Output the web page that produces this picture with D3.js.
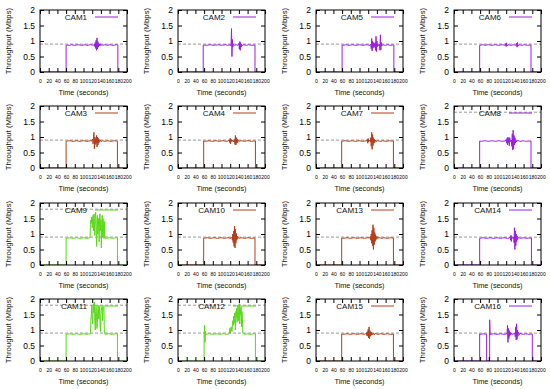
<!DOCTYPE html>
<html>
<head>
<meta charset="utf-8">
<script src="https://cdn.jsdelivr.net/npm/d3@7"></script>
<style>
  body { margin: 0; background: #fff; }
  svg { display: block; font-family: "Liberation Sans", Arial, sans-serif; }
</style>
</head>
<body>
<div id="chart"></div>
<script>
// panel order, left to right, top to bottom
const cameras = ["CAM1", "CAM2", "CAM5", "CAM6", "CAM3", "CAM4", "CAM7", "CAM8",
                 "CAM9", "CAM10", "CAM13", "CAM14", "CAM11", "CAM12", "CAM15", "CAM16"];
const colorGroup = ["violet", "violet", "violet", "violet", "brown", "brown", "brown", "violet",
                    "green", "brown", "brown", "violet", "green", "green", "brown", "violet"];
// dashed reference levels (Mbps) per panel
const refLevels = [[0.9], [0.9], [0.9], [0.9], [0.9], [0.9], [0.9], [1.8],
                   [0.9, 1.8], [0.9], [0.9], [0.9], [0.9, 1.8], [0.9, 1.8], [0.9], [0.9]];
const xTicks = [0, 20, 40, 60, 80, 100, 120, 140, 160, 180, 200];
const yTicks = [0, 0.5, 1, 1.5, 2];

// throughput series: [time (s), Mbps]
const cam1 = [[0,0],[60,0],[60,0.86],[64,0.87],[68,0.86],[72,0.88],[76,0.87],[80,0.86],[84,0.87],[88,0.88],[92,0.87],[96,0.86],[100,0.87],[104,0.88],[108,0.86],[112,0.87],[116,0.88],[120,0.87],[123,0.86],[125,0.9],[126,0.82],[127,0.95],[128,0.76],[129,1.02],[130,0.7],[131,1.1],[132,0.74],[133,0.98],[134,0.8],[135,0.93],[136,0.84],[138,0.91],[140,0.85],[142,0.89],[144,0.86],[148,0.88],[152,0.87],[156,0.86],[160,0.88],[164,0.87],[168,0.86],[172,0.87],[176,0.88],[179,0.87],[179,0],[200,0]];
const cam2 = [[0,0],[58,0],[58,0.86],[62,0.87],[66,0.86],[70,0.87],[74,0.88],[78,0.87],[82,0.86],[86,0.87],[90,0.87],[94,0.88],[98,0.86],[102,0.87],[106,0.87],[110,0.88],[114,0.86],[118,0.87],[121,0.88],[122,0.84],[123,1.4],[124,0.5],[125,1.05],[126,0.8],[127,0.9],[130,0.86],[134,0.88],[138,0.86],[140,0.92],[141,0.74],[142,0.98],[143,0.7],[144,0.95],[145,0.8],[146,0.9],[148,0.84],[150,0.88],[154,0.87],[158,0.86],[162,0.88],[166,0.87],[170,0.86],[174,0.87],[177,0.87],[177,0],[200,0]];
const cam5 = [[0,0],[60,0],[60,0.87],[64,0.86],[68,0.88],[72,0.87],[76,0.86],[80,0.87],[84,0.88],[88,0.87],[92,0.86],[96,0.87],[100,0.88],[104,0.87],[108,0.86],[112,0.87],[116,0.88],[120,0.87],[124,0.86],[126,0.9],[127,0.75],[128,1.08],[129,0.68],[130,1.0],[131,0.8],[132,0.95],[133,0.78],[134,0.92],[135,0.82],[136,0.95],[137,0.7],[138,1.15],[139,0.66],[140,1.0],[141,0.82],[142,0.9],[144,0.85],[146,0.9],[147,0.7],[148,1.2],[149,0.72],[150,0.95],[151,0.84],[153,0.88],[156,0.87],[160,0.86],[164,0.88],[168,0.87],[172,0.86],[176,0.87],[179,0.87],[179,0],[200,0]];
const cam6 = [[0,0],[59,0],[59,0.86],[63,0.87],[67,0.88],[71,0.86],[75,0.87],[79,0.88],[83,0.87],[87,0.86],[91,0.87],[95,0.88],[99,0.87],[103,0.86],[107,0.87],[111,0.88],[115,0.87],[118,0.86],[119,0.92],[120,0.82],[121,0.94],[122,0.84],[124,0.88],[128,0.87],[132,0.86],[136,0.88],[140,0.87],[143,0.86],[144,0.93],[145,0.8],[146,0.95],[147,0.83],[149,0.88],[153,0.87],[157,0.86],[161,0.88],[165,0.87],[169,0.86],[173,0.87],[177,0.87],[177,0],[200,0]];
const cam3 = [[0,0],[60,0],[60,0.86],[64,0.87],[68,0.88],[72,0.87],[76,0.86],[80,0.87],[84,0.88],[88,0.87],[92,0.86],[96,0.87],[100,0.88],[104,0.87],[108,0.86],[112,0.87],[116,0.88],[119,0.87],[121,0.93],[122,0.78],[123,1.02],[124,1.15],[125,0.62],[126,1.0],[127,0.76],[128,0.95],[129,0.8],[130,1.05],[131,0.68],[132,1.0],[133,0.74],[134,0.96],[135,0.8],[136,0.92],[137,0.84],[139,0.9],[141,0.85],[143,0.88],[147,0.87],[151,0.86],[155,0.88],[159,0.87],[163,0.86],[167,0.87],[171,0.88],[175,0.87],[178,0.86],[178,0],[200,0]];
const cam4 = [[0,0],[59,0],[59,0.87],[63,0.86],[67,0.87],[71,0.88],[75,0.87],[79,0.86],[83,0.87],[87,0.88],[91,0.87],[95,0.86],[99,0.87],[103,0.88],[107,0.87],[111,0.86],[115,0.87],[118,0.9],[119,0.82],[120,0.96],[121,0.78],[122,0.93],[124,0.85],[126,0.9],[128,0.84],[130,0.92],[131,0.76],[132,1.05],[133,0.74],[134,0.98],[135,0.8],[136,0.94],[137,0.82],[139,0.9],[141,0.86],[145,0.88],[149,0.87],[153,0.86],[157,0.87],[161,0.88],[165,0.87],[169,0.86],[173,0.87],[178,0.87],[178,0],[200,0]];
const cam7 = [[0,0],[59,0],[59,0.86],[63,0.87],[67,0.88],[71,0.87],[75,0.86],[79,0.87],[83,0.88],[87,0.87],[91,0.86],[95,0.87],[99,0.88],[103,0.87],[107,0.86],[111,0.87],[116,0.87],[118,0.92],[119,0.8],[120,0.95],[121,0.84],[123,0.9],[125,0.85],[126,0.98],[127,0.7],[128,1.15],[129,0.6],[130,1.08],[131,0.72],[132,0.98],[133,0.8],[134,0.93],[135,0.82],[137,0.9],[139,0.85],[141,0.88],[145,0.87],[149,0.86],[153,0.88],[157,0.87],[161,0.86],[165,0.87],[169,0.88],[173,0.87],[178,0.87],[178,0],[200,0]];
const cam8 = [[0,0],[59,0],[59,0.87],[63,0.86],[67,0.87],[71,0.88],[75,0.87],[79,0.86],[83,0.87],[87,0.88],[91,0.87],[95,0.86],[99,0.87],[103,0.88],[107,0.87],[111,0.86],[115,0.87],[118,0.87],[120,0.92],[121,0.8],[122,0.96],[123,0.75],[124,1.0],[125,0.82],[126,0.95],[127,0.72],[128,0.98],[130,0.85],[132,0.9],[133,0.7],[134,1.1],[135,0.58],[136,1.22],[137,0.62],[138,1.05],[139,0.75],[140,0.98],[141,0.8],[142,0.92],[144,0.84],[146,0.89],[150,0.87],[154,0.86],[158,0.88],[162,0.87],[166,0.86],[170,0.87],[177,0.87],[177,0],[200,0]];
const cam9 = [[0,0],[60,0],[60,0.86],[64,0.87],[68,0.88],[72,0.87],[76,0.86],[80,0.87],[84,0.88],[88,0.87],[92,0.86],[96,0.87],[100,0.88],[104,0.87],[108,0.86],[112,0.87],[115,0.88],[116,1.3],[117,1.45],[118,1.35],[119,1.55],[120,1.2],[121,1.5],[122,1.6],[123,1.1],[124,1.65],[125,1.3],[126,0.95],[127,1.55],[128,1.7],[129,1.2],[130,0.6],[131,1.45],[132,1.6],[133,1.0],[134,1.5],[135,1.25],[136,0.75],[137,1.55],[138,1.65],[139,1.1],[140,1.45],[141,0.55],[142,1.3],[143,1.6],[144,0.9],[145,1.5],[146,1.2],[147,0.85],[148,1.4],[149,0.88],[151,0.86],[155,0.87],[159,0.88],[163,0.87],[167,0.86],[171,0.87],[175,0.88],[178,0.87],[178,0],[200,0]];
const cam10 = [[0,0],[59,0],[59,0.86],[63,0.87],[67,0.88],[71,0.87],[75,0.86],[79,0.87],[83,0.88],[87,0.87],[91,0.86],[95,0.87],[99,0.88],[103,0.87],[107,0.86],[111,0.87],[115,0.88],[119,0.87],[122,0.86],[124,0.9],[125,0.8],[126,1.0],[127,0.72],[128,1.1],[129,0.6],[130,1.25],[131,0.55],[132,1.15],[133,0.7],[134,1.02],[135,0.8],[136,0.93],[137,0.84],[139,0.89],[141,0.86],[145,0.88],[149,0.87],[153,0.86],[157,0.87],[161,0.88],[165,0.87],[169,0.86],[173,0.87],[177,0.87],[177,0],[200,0]];
const cam13 = [[0,0],[59,0],[59,0.87],[63,0.86],[67,0.87],[71,0.88],[75,0.87],[79,0.86],[83,0.87],[87,0.88],[91,0.87],[95,0.86],[99,0.87],[103,0.88],[107,0.87],[111,0.86],[115,0.87],[119,0.88],[123,0.87],[125,0.92],[126,0.8],[127,1.0],[128,0.7],[129,1.12],[130,0.62],[131,1.3],[132,0.5],[133,1.2],[134,0.66],[135,1.05],[136,0.76],[137,0.98],[138,0.82],[140,0.92],[142,0.85],[144,0.89],[148,0.87],[152,0.86],[156,0.88],[160,0.87],[164,0.86],[168,0.87],[172,0.88],[178,0.87],[178,0],[200,0]];
const cam14 = [[0,0],[59,0],[59,0.86],[63,0.87],[67,0.88],[71,0.87],[75,0.86],[79,0.87],[83,0.88],[87,0.87],[91,0.86],[95,0.87],[99,0.88],[103,0.87],[107,0.86],[111,0.87],[115,0.88],[119,0.87],[123,0.86],[127,0.87],[129,0.9],[130,0.8],[131,0.96],[132,0.76],[133,0.92],[135,0.86],[137,0.9],[138,0.72],[139,1.2],[140,0.5],[141,1.1],[142,0.62],[143,1.0],[144,0.75],[145,0.94],[146,0.82],[148,0.89],[151,0.87],[155,0.86],[159,0.88],[163,0.87],[167,0.86],[171,0.87],[178,0.87],[178,0],[200,0]];
const cam11 = [[0,0],[60,0],[60,0.86],[64,0.87],[68,0.88],[72,0.87],[76,0.86],[80,0.87],[84,0.88],[88,0.87],[92,0.86],[96,0.87],[100,0.88],[104,0.87],[108,0.86],[112,0.87],[116,0.88],[117,1.35],[118,1.5],[119,1.8],[120,1.4],[121,1.2],[122,1.75],[123,1.85],[124,1.55],[125,1.9],[126,1.3],[127,1.0],[128,1.6],[129,1.75],[130,1.45],[131,1.05],[132,1.25],[133,1.7],[134,1.78],[135,1.35],[136,1.55],[137,1.75],[138,1.2],[139,0.95],[140,1.5],[141,1.72],[142,1.65],[143,1.75],[144,1.3],[145,1.7],[146,1.75],[147,1.74],[148,0.88],[150,0.86],[154,0.87],[158,0.88],[162,0.87],[166,0.86],[170,0.87],[174,0.88],[178,0.87],[178,0],[200,0]];
const cam12 = [[0,0],[60,0],[60,0.86],[61,1.15],[62,0.6],[63,0.95],[64,0.86],[68,0.87],[72,0.88],[76,0.87],[80,0.86],[84,0.87],[88,0.88],[92,0.87],[96,0.86],[100,0.87],[104,0.88],[108,0.87],[112,0.86],[116,0.87],[118,0.88],[119,1.05],[120,0.9],[122,1.1],[124,0.95],[126,1.3],[127,1.15],[128,1.45],[129,1.2],[130,1.55],[131,1.35],[132,1.0],[133,1.6],[134,1.4],[135,1.7],[136,1.25],[137,1.6],[138,1.8],[139,1.3],[140,1.65],[141,1.85],[142,1.2],[143,1.7],[144,1.5],[145,1.75],[146,1.1],[147,1.6],[148,1.4],[149,0.9],[151,0.87],[155,0.86],[159,0.88],[163,0.87],[167,0.86],[171,0.87],[175,0.88],[178,0.87],[178,0],[200,0]];
const cam15 = [[0,0],[59,0],[59,0.87],[63,0.86],[67,0.87],[71,0.88],[75,0.87],[79,0.86],[83,0.87],[87,0.88],[91,0.87],[95,0.86],[99,0.87],[103,0.88],[107,0.87],[111,0.86],[114,0.87],[116,0.91],[117,0.82],[118,0.95],[119,0.8],[120,1.02],[121,0.74],[122,1.1],[123,0.72],[124,0.98],[125,0.8],[126,0.94],[127,0.83],[128,0.92],[130,0.85],[132,0.9],[134,0.84],[136,0.89],[140,0.87],[144,0.86],[148,0.88],[152,0.87],[156,0.86],[160,0.87],[164,0.88],[168,0.87],[172,0.86],[178,0.87],[178,0],[200,0]];
const cam16 = [[0,0],[59,0],[59,0.87],[63,0.86],[67,0.88],[71,0.87],[75,0.86],[75,0],[82,0],[82,1.33],[83,0.86],[87,0.87],[91,0.88],[95,0.87],[99,0.86],[103,0.87],[107,0.88],[111,0.87],[115,0.86],[119,0.87],[122,0.88],[123,1.15],[124,0.6],[125,1.05],[126,0.72],[127,0.98],[128,0.8],[129,0.93],[130,0.84],[132,0.9],[134,0.85],[136,0.89],[138,0.86],[140,0.9],[141,0.78],[142,1.1],[143,0.68],[144,1.2],[145,0.7],[146,1.0],[147,0.8],[148,0.93],[150,0.85],[152,0.89],[156,0.87],[160,0.86],[164,0.88],[168,0.87],[172,0.86],[176,0.87],[180,0.87],[180,0],[200,0]];

const seriesByCam = {
  CAM1: cam1, CAM2: cam2, CAM5: cam5, CAM6: cam6, CAM3: cam3, CAM4: cam4, CAM7: cam7, CAM8: cam8,
  CAM9: cam9, CAM10: cam10, CAM13: cam13, CAM14: cam14, CAM11: cam11, CAM12: cam12, CAM15: cam15, CAM16: cam16
};

const palette = { violet: "#9a1ee0", brown: "#b23e1c", green: "#5ad818" };

const width = 550, height = 389;
const colLeft = [40, 178, 316, 454];
const rowTop = [10, 106, 203, 299];
const pw = 87, ph = 62;

const svg = d3.select("#chart").append("svg")
  .attr("width", width)
  .attr("height", height);

const x = d3.scaleLinear().domain([0, 200]).range([0, pw]);
const y = d3.scaleLinear().domain([0, 2]).range([ph, 0]);

const line = d3.line()
  .x((d) => x(d[0]))
  .y((d) => y(d[1]));

svg.append("defs").append("clipPath")
  .attr("id", "plot-clip")
  .append("rect")
  .attr("width", pw)
  .attr("height", ph);

cameras.forEach((cam, i) => {
  const col = i % 4, row = Math.floor(i / 4);
  const color = palette[colorGroup[i]];
  const g = svg.append("g")
    .attr("transform", `translate(${colLeft[col]},${rowTop[row]})`);

  // dashed reference lines
  g.selectAll(".ref")
    .data(refLevels[i])
    .join("line")
    .attr("class", "ref")
    .attr("x1", 0)
    .attr("x2", pw)
    .attr("y1", (d) => y(d))
    .attr("y2", (d) => y(d))
    .attr("stroke", "#9a9a9a")
    .attr("stroke-width", 1)
    .attr("stroke-dasharray", "3,2");

  // legend
  g.append("text")
    .attr("x", 47)
    .attr("y", 7)
    .attr("dy", "0.35em")
    .attr("text-anchor", "end")
    .attr("font-size", 8)
    .attr("fill", "#111")
    .text(cam);
  g.append("line")
    .attr("x1", 55)
    .attr("x2", 78)
    .attr("y1", 7)
    .attr("y2", 7)
    .attr("stroke", color)
    .attr("stroke-width", 1);

  // throughput line
  g.append("path")
    .datum(seriesByCam[cam])
    .attr("clip-path", "url(#plot-clip)")
    .attr("fill", "none")
    .attr("stroke", color)
    .attr("stroke-width", 1)
    .attr("d", line);

  // axes with inward ticks, mirrored on top/right
  const styleAxis = (sel) => {
    sel.select(".domain").remove();
    sel.selectAll("line").attr("stroke", "#000");
    sel.selectAll("text").attr("fill", "#000");
  };

  g.append("g")
    .attr("transform", `translate(0,${ph})`)
    .call(d3.axisBottom(x).tickValues(xTicks).tickSizeInner(-4).tickSizeOuter(0).tickPadding(7))
    .call(styleAxis)
    .call((sel) => sel.selectAll("text").attr("font-size", 5).attr("font-family", null));
  g.append("g")
    .call(d3.axisTop(x).tickValues(xTicks).tickSizeInner(-4).tickSizeOuter(0).tickFormat(""))
    .call(styleAxis);
  g.append("g")
    .call(d3.axisLeft(y).tickValues(yTicks).tickSizeInner(-4).tickSizeOuter(0).tickPadding(5).tickFormat((d) => String(d)))
    .call(styleAxis)
    .call((sel) => sel.selectAll("text").attr("font-size", 8.5).attr("font-family", null));
  g.append("g")
    .attr("transform", `translate(${pw},0)`)
    .call(d3.axisRight(y).tickValues(yTicks).tickSizeInner(-4).tickSizeOuter(0).tickFormat(""))
    .call(styleAxis);

  // frame
  g.append("rect")
    .attr("width", pw)
    .attr("height", ph)
    .attr("fill", "none")
    .attr("stroke", "#000")
    .attr("stroke-width", 1);

  // axis titles
  g.append("text")
    .attr("x", pw / 2)
    .attr("y", ph + 20)
    .attr("dy", "0.35em")
    .attr("text-anchor", "middle")
    .attr("font-size", 7.3)
    .attr("fill", "#111")
    .text("Time (seconds)");
  g.append("text")
    .attr("transform", `translate(-32,${ph / 2}) rotate(-90)`)
    .attr("dy", "0.35em")
    .attr("text-anchor", "middle")
    .attr("font-size", 7.8)
    .attr("fill", "#111")
    .text("Throughput (Mbps)");
});
</script>
</body>
</html>
